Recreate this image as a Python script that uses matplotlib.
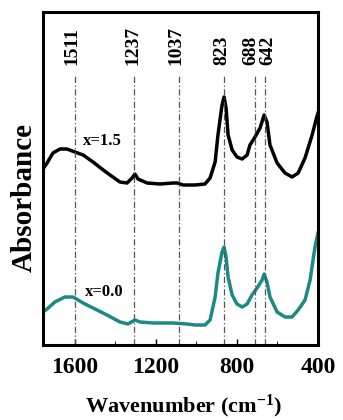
import numpy as np
import matplotlib
matplotlib.use("Agg")
import matplotlib.pyplot as plt

# spectra (arbitrary absorbance units)
wn_top = [1758, 1738, 1709, 1674, 1640, 1600, 1560, 1511, 1467, 1427, 1378, 1343, 1318, 1304,
          1289, 1244, 1180, 1116, 1096, 1066, 1007, 958, 933, 908, 894, 874, 864, 854, 844,
          824, 800, 775, 750, 736, 711, 686, 666, 652, 637, 602, 563, 528, 498, 464, 429,
          410, 400]
abs_top = [176, 182, 192, 196, 196, 193, 190, 183, 176, 170, 163, 162, 167, 171,
           166, 162, 161, 162, 162, 160, 160, 161, 167, 183, 210, 240, 248, 237, 210,
           195, 188, 186, 190, 200, 208, 217, 230, 223, 200, 182, 172, 168, 172, 187, 210,
           225, 232]

wn_bot = [1758, 1738, 1699, 1650, 1610, 1560, 1511, 1442, 1378, 1338, 1304, 1279, 1215,
          1116, 1047, 1007, 958, 933, 908, 894, 874, 864, 854, 844, 824, 800, 775, 750,
          726, 701, 676, 666, 652, 637, 602, 563, 528, 498, 464, 439, 415, 400]
abs_bot = [33, 36, 43, 48, 48, 42, 37, 30, 23, 21, 25, 23, 22,
           22, 21, 20, 20, 25, 48, 72, 93, 98, 88, 68, 50, 41, 38, 41,
           50, 57, 65, 71, 63, 48, 33, 28, 28, 35, 45, 65, 98, 112]

# marker lines: drawn position and printed label
line_pos = [1600, 1309, 1086, 864, 711, 661]
line_lab = ["1511", "1237", "1037", "823", "688", "642"]

xticks = [1600, 1200, 800, 400]

plt.rcParams["font.family"] = ["Liberation Serif", "DejaVu Serif"]
plt.rcParams["font.weight"] = "bold"
plt.rcParams["mathtext.fontset"] = "custom"
plt.rcParams["mathtext.bf"] = "Liberation Serif:bold"
plt.rcParams["mathtext.rm"] = "Liberation Serif:bold"

fig = plt.figure(figsize=(3.43, 4.2), dpi=100)
ax = fig.add_axes([43/343, 75/420, 275/343, 333/420])

ax.plot(wn_top, abs_top, color="black", lw=2.5)
ax.plot(wn_bot, abs_bot, color="#1b8a84", lw=2.5)

nudge = [15, 5, 15, 10, 22, -14]
for p, l, n in zip(line_pos, line_lab, nudge):
    ax.plot([p, p], [0, 269], color="#555555", lw=0.9, ls=(0, (5, 2, 1, 2)))
    ax.text(p + n, 280, l, rotation=90, ha="center", va="bottom", fontsize=14, fontweight="bold")

ax.text(1560, 200, "x=1.5", fontsize=12, fontweight="bold")
ax.text(1550, 49, "x=0.0", fontsize=12, fontweight="bold")

ax.set_xlim(1758, 400)
ax.set_ylim(0, 333)
ax.set_xticks(xticks)
ax.set_xticklabels([str(t) for t in xticks], fontsize=17, fontweight="bold")
ax.set_xticks([1400, 1000, 600], minor=True)
ax.tick_params(axis="x", direction="in", length=4, width=1, pad=8.5)
ax.tick_params(axis="x", which="minor", direction="in", length=3)
ax.set_yticks([])
for s in ax.spines.values():
    s.set_linewidth(2.2)

fig.text(184/343, 1 - 412/420, "Wavenumber (cm$\\mathbf{^{-1}}$)", ha="center", va="baseline",
         fontsize=16, fontweight="bold")
fig.text(24/343, 1 - 197/420, "Absorbance", rotation=90, ha="center", va="center",
         fontsize=21, fontweight="bold")

fig.savefig("out.png", dpi=100, facecolor="white")
